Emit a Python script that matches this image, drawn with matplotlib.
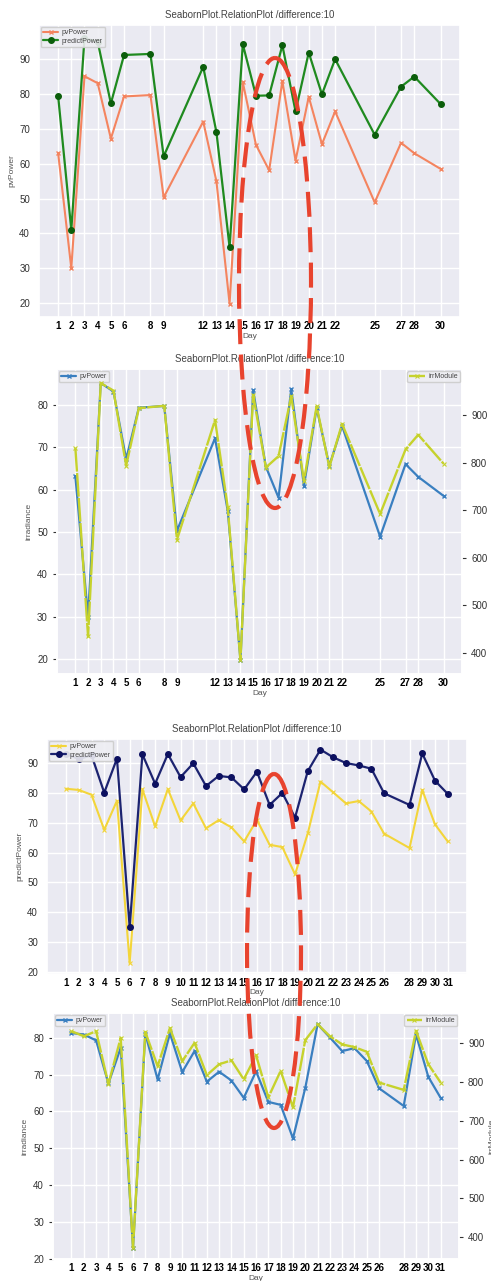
import matplotlib
matplotlib.use('Agg')
import matplotlib.pyplot as plt
import seaborn as sns
from matplotlib.patches import Ellipse

sns.set_theme(style='darkgrid')
plt.rcParams['font.family'] = ['Liberation Sans', 'DejaVu Sans']

TITLE = 'SeabornPlot.RelationPlot /difference:10'

# first month (days with readings only)
days_a = [1, 2, 3, 4, 5, 6, 8, 9, 12, 13, 14, 15, 16, 17, 18, 19, 20, 21, 22, 25, 27, 28, 30]
pv_a = [63.1, 30, 85.1, 83.1, 67.2, 79.3, 79.7, 50.3, 72.1, 55, 19.8, 83.4, 65.4, 58.1,
        83.7, 60.9, 79.2, 65.6, 75, 48.9, 66, 63, 58.5]
pred_a = [79.5, 41, 96, 95, 77.3, 91.2, 91.5, 62.1, 87.8, 69.1, 36, 94.3, 79.5, 79.6,
          94, 75, 91.9, 79.9, 90, 68.3, 82.1, 85, 77.1]
irr_a = [831, 434, 968, 952, 794, 915, 920, 638, 890, 706, 384, 943, 790, 814,
         940, 762, 919, 791, 882, 692, 828, 859, 798]

# second month
days_b = list(range(1, 27)) + [28, 29, 30, 31]
pv_b = [81.3, 80.9, 79.3, 67.6, 77.3, 23, 81.1, 68.7, 81.2, 70.7, 76.4, 68.1, 70.8, 68.4,
        63.7, 70.9, 62.6, 61.8, 52.7, 66.4, 83.7, 80.1, 76.4, 77.2, 73.7, 66.3,
        61.5, 80.9, 69.4, 63.7]
pred_b = [93, 91.2, 92.5, 80, 91.4, 35, 92.8, 83, 92.9, 85.2, 89.8, 82.2, 85.6, 85.1,
          81.1, 87, 75.9, 79.9, 71.7, 87.2, 94.4, 91.8, 89.9, 89.1, 88, 79.8,
          75.9, 93.1, 84, 79.6]
irr_b = [930, 917, 930, 794, 913, 373, 928, 840, 938, 853, 900, 817, 845, 855,
         806, 868, 760, 828, 734, 907, 948, 917, 896, 889, 877, 798,
         779, 931, 845, 798]

# marked areas (figure pixels): centre x, centre y, width, height
ring_1 = (275, 283, 72, 450)
ring_2 = (274, 951, 54, 354)

fig = plt.figure(figsize=(4.91, 12.81), dpi=100)


def style_axes(ax, days, ylabel, ticks=False):
    ax.set_xticks(days)
    ax.set_xticklabels([str(d) for d in days], fontsize=7, fontweight='bold', color='black')
    ax.tick_params(axis='x', length=0, pad=3)
    ax.tick_params(axis='y', labelsize=7, labelcolor='#333333', left=ticks, length=3, width=0.8, color='#333333')
    ax.set_xlabel('Day', fontsize=6, color='#555555', labelpad=1)
    ax.set_ylabel(ylabel, fontsize=6, color='#555555', labelpad=3)
    ax.set_title(TITLE, fontsize=7, color='#444444', pad=5)


def small_legend(ax, loc):
    leg = ax.legend(loc=loc, fontsize=5, borderpad=0.3, labelspacing=0.25,
                    handlelength=2.2, handletextpad=0.5, borderaxespad=0.3,
                    facecolor='#eeeef3', edgecolor='#cccccc', framealpha=0.9)
    for t in leg.get_texts():
        t.set_color('#444444')


# panel 1: pvPower vs predictPower
ax1 = fig.add_axes([0.0794, 0.7525, 0.857, 0.228])
ax1.plot(days_a, pv_a, color='#f4845f', lw=1.5, marker='x', ms=3.5, mew=1, label='pvPower')
ax1.plot(days_a, pred_a, color='#1f8a1f', lw=1.6, marker='o', ms=4, mfc='#0b5e0b', mec='#0b5e0b', label='predictPower')
style_axes(ax1, days_a, 'pvPower')
small_legend(ax1, 'upper left')

# panel 2: pvPower vs irrModule (twin axis)
ax2 = fig.add_axes([0.116, 0.4738, 0.825, 0.238])
ax2.plot(days_a, pv_a, color='#3a7fc0', lw=1.6, marker='x', ms=3.5, mew=1, label='pvPower')
style_axes(ax2, days_a, 'irradiance', ticks=True)
small_legend(ax2, 'upper left')
ax2r = ax2.twinx()
ax2r.plot(days_a, irr_a, color='#c6d22c', lw=1.7, ls=(0, (10, 0.6)), marker='x', ms=3, mew=0.8, label='irrModule')
ax2r.grid(False)
ax2r.tick_params(axis='y', right=True, labelsize=7, labelcolor='#333333', length=3, width=0.8, color='#333333')
ax2r.set_ylabel('irrModule', fontsize=6, color='#555555', labelpad=3)
small_legend(ax2r, 'upper right')

# panel 3: second month pvPower vs predictPower
ax3 = fig.add_axes([0.0957, 0.2397, 0.855, 0.1835])
ax3.plot(days_b, pv_b, color='#f3d53a', lw=1.5, marker='x', ms=3, mew=0.8, label='pvPower')
ax3.plot(days_b, pred_b, color='#1c2370', lw=1.6, marker='o', ms=4, mfc='#0c1060', mec='#0c1060', label='predictPower')
style_axes(ax3, days_b, 'predictPower')
small_legend(ax3, 'upper left')

# panel 4: second month pvPower vs irrModule
ax4 = fig.add_axes([0.108, 0.0172, 0.827, 0.192])
ax4.plot(days_b, pv_b, color='#3a7fc0', lw=1.6, marker='x', ms=3.5, mew=1, label='pvPower')
style_axes(ax4, days_b, 'irradiance', ticks=True)
small_legend(ax4, 'upper left')
ax4r = ax4.twinx()
ax4r.plot(days_b, irr_b, color='#c6d22c', lw=1.7, ls=(0, (10, 0.6)), marker='x', ms=3, mew=0.8, label='irrModule')
ax4r.grid(False)
ax4r.tick_params(axis='y', right=True, labelsize=7, labelcolor='#333333', length=3, width=0.8, color='#333333')
ax4r.set_ylabel('irrModule', fontsize=6, color='#555555', labelpad=3)
small_legend(ax4r, 'upper right')

# red dashed rings drawn over the whole figure
over = fig.add_axes([0, 0, 1, 1])
over.set_xlim(0, 491)
over.set_ylim(1281, 0)
over.axis('off')
over.patch.set_alpha(0)
for cx, cy, w, h in (ring_1, ring_2):
    over.add_patch(Ellipse((cx, cy), w, h, fill=False, ec='#e8432e', lw=3, ls=(0, (6, 2.5))))

fig.savefig('out.png', dpi=100)
